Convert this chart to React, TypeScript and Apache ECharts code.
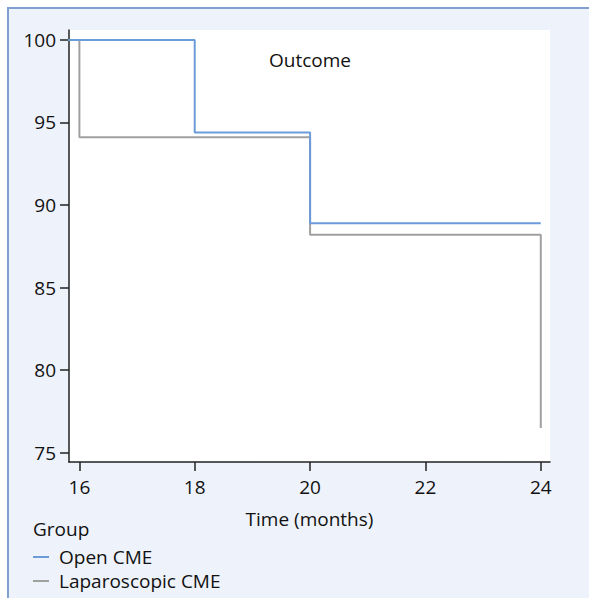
import React, { useEffect, useRef } from "react";
import * as echarts from "echarts";

const openTimes = [0, 18, 20, 24];
const openValues = [100, 94.4, 88.9, 88.9];
const lapTimes = [0, 16, 20, 24];
const lapValues = [100, 94.1, 88.2, 76.5];
const xTicks = [16, 18, 20, 22, 24];
const yTicks = [75, 80, 85, 90, 95, 100];
const seriesNames = ["Open CME", "Laparoscopic CME"];

const FONT = "Open Sans";

export default function App() {
  const ref = useRef<HTMLDivElement>(null);
  useEffect(() => {
    if (!ref.current) return;
    const chart = echarts.init(ref.current, undefined, { renderer: "svg" });
    const pair = (t: number[], v: number[]) => t.map((x, i) => [x, v[i]]);
    chart.setOption({
      animation: false,
      textStyle: { fontFamily: FONT },
      grid: { left: 69, top: 30, right: 39, bottom: 136, show: true, backgroundColor: "#ffffff", borderWidth: 0 },
      xAxis: {
        type: "value",
        min: 15.82,
        max: 24.16,
        splitLine: { show: false },
        axisLine: { lineStyle: { color: "#222", width: 1.5 } },
        axisTick: { show: true, length: 9, customValues: xTicks, lineStyle: { color: "#222", width: 1.5 } },
        axisLabel: { customValues: xTicks, color: "#111", fontSize: 19, fontFamily: FONT, margin: 15 },
        name: "Time (months)",
        nameLocation: "middle",
        nameGap: 47,
        nameTextStyle: { color: "#111", fontSize: 19, fontFamily: FONT },
      },
      yAxis: {
        type: "value",
        min: 74.44,
        max: 100.6,
        splitLine: { show: false },
        axisLine: { show: true, lineStyle: { color: "#222", width: 1.5 } },
        axisTick: { show: true, length: 9, customValues: yTicks, lineStyle: { color: "#222", width: 1.5 } },
        axisLabel: { customValues: yTicks, color: "#111", fontSize: 19, fontFamily: FONT, margin: 13 },
      },
      legend: {
        data: seriesNames,
        orient: "vertical",
        left: 33,
        top: 546,
        height: 52,
        padding: 0,
        itemWidth: 16,
        itemHeight: 2,
        itemGap: 2,
        icon: "rect",
        textStyle: { color: "#111", fontSize: 19, fontFamily: FONT, padding: [0, 0, 0, 5], lineHeight: 22 },
      },
      graphic: [
        {
          type: "rect",
          left: 7,
          top: 7,
          shape: { width: 590, height: 2 },
          style: { fill: "#7fa0d0" },
        },
        {
          type: "rect",
          left: 7,
          top: 7,
          shape: { width: 2, height: 600 },
          style: { fill: "#7fa0d0" },
        },
        {
          type: "text",
          left: 33,
          top: 519,
          style: { text: "Group", fontSize: 19, fontFamily: FONT, fill: "#111" },
        },
        {
          type: "text",
          left: 269,
          top: 50,
          style: { text: "Outcome", fontSize: 19, fontFamily: FONT, fill: "#111" },
        },
      ],
      series: [
        {
          name: seriesNames[1],
          type: "line",
          step: "end",
          data: pair(lapTimes, lapValues),
          showSymbol: false,
          clip: true,
          itemStyle: { color: "#a0a0a0" },
          lineStyle: { color: "#a0a0a0", width: 2 },
        },
        {
          name: seriesNames[0],
          type: "line",
          step: "end",
          data: pair(openTimes, openValues),
          showSymbol: false,
          clip: true,
          itemStyle: { color: "#6b9bd8" },
          lineStyle: { color: "#6b9bd8", width: 2 },
        },
      ],
    });
    return () => chart.dispose();
  }, []);
  return (
    <div style={{ position: "fixed", left: 0, top: 0, width: 589, height: 598, overflow: "hidden", background: "#ffffff" }}>
      <div
        style={{
          position: "absolute",
          left: 9,
          top: 9,
          width: 600,
          height: 600,
          background: "#eef2fa",
        }}
      />
      <div ref={ref} style={{ position: "absolute", left: 0, top: 0, width: 589, height: 598 }} />
    </div>
  );
}
